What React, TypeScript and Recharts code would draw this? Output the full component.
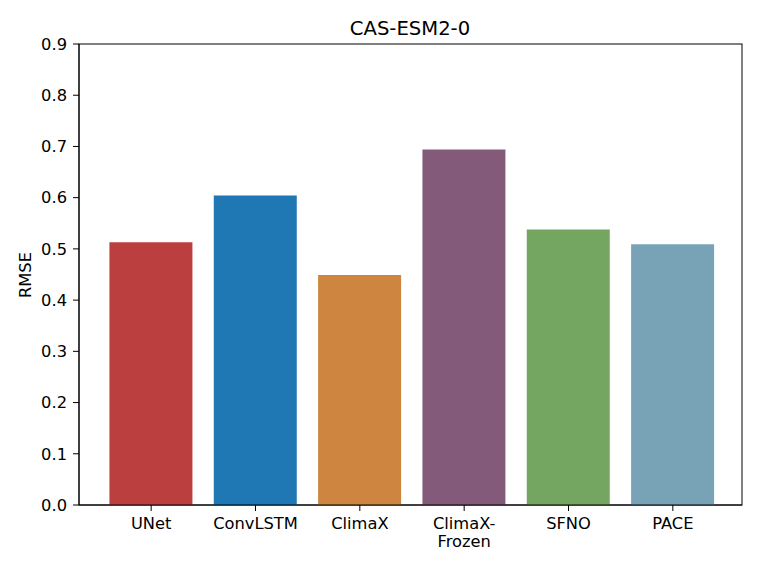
import React from 'react';
import { BarChart, Bar, XAxis, YAxis, Cell } from 'recharts';

const models = ['UNet', 'ConvLSTM', 'ClimaX', 'ClimaX-\nFrozen', 'SFNO', 'PACE'];
const rmse = [0.513, 0.604, 0.449, 0.694, 0.538, 0.509];
const colors = ['#bb3f3f', '#1f77b4', '#cd853f', '#835a7a', '#74a662', '#78a3b7'];
const yTicks = [0, 0.1, 0.2, 0.3, 0.4, 0.5, 0.6, 0.7, 0.8, 0.9];

const data = models.map((name, i) => ({ name, rmse: rmse[i] }));

const font = 'DejaVu Sans, sans-serif';

const XTick = (props: any) => {
  const { x, y, payload } = props;
  const lines = String(payload.value).split('\n');
  return (
    <text x={x} y={y} textAnchor="middle" fontFamily={font} fontSize={16.3} fill="#000">
      {lines.map((l, i) => (
        <tspan key={i} x={x} dy={i === 0 ? 18 : 18}>{l}</tspan>
      ))}
    </text>
  );
};

export default function App() {
  return (
    <div style={{ position: 'absolute', left: 0, top: 0, width: 761, height: 571, background: '#fff' }}>
      <BarChart
        width={761}
        height={571}
        data={data}
        margin={{ top: 44, right: 19, bottom: 16, left: 0 }}
        barCategoryGap="10%"
      >
        <text x={410} y={35} textAnchor="middle" fontFamily={font} fontSize={19.6} fill="#000">
          CAS-ESM2-0
        </text>
        <text
          x={31}
          y={275}
          textAnchor="middle"
          fontFamily={font}
          fontSize={16.3}
          fill="#000"
          transform="rotate(-90 31 275)"
        >
          RMSE
        </text>
        <XAxis
          dataKey="name"
          height={50}
          interval={0}
          padding={{ left: 20, right: 17 }}
          stroke="#000"
          tickSize={6}
          tickMargin={0}
          tickLine={{ stroke: '#000' }}
          tick={<XTick />}
        />
        <YAxis
          domain={[0, 0.9]}
          ticks={yTicks}
          width={79}
          stroke="#000"
          tickSize={6}
          tickMargin={6}
          tickFormatter={(v: number) => v.toFixed(1)}
          tick={{ fontFamily: font, fontSize: 16.3, fill: '#000' }}
        />
        <Bar dataKey="rmse" isAnimationActive={false}>
          {data.map((d, i) => (
            <Cell key={d.name} fill={colors[i]} />
          ))}
        </Bar>
        <rect x={79} y={44} width={663} height={461} fill="none" stroke="#000" strokeWidth={1} />
      </BarChart>
    </div>
  );
}
